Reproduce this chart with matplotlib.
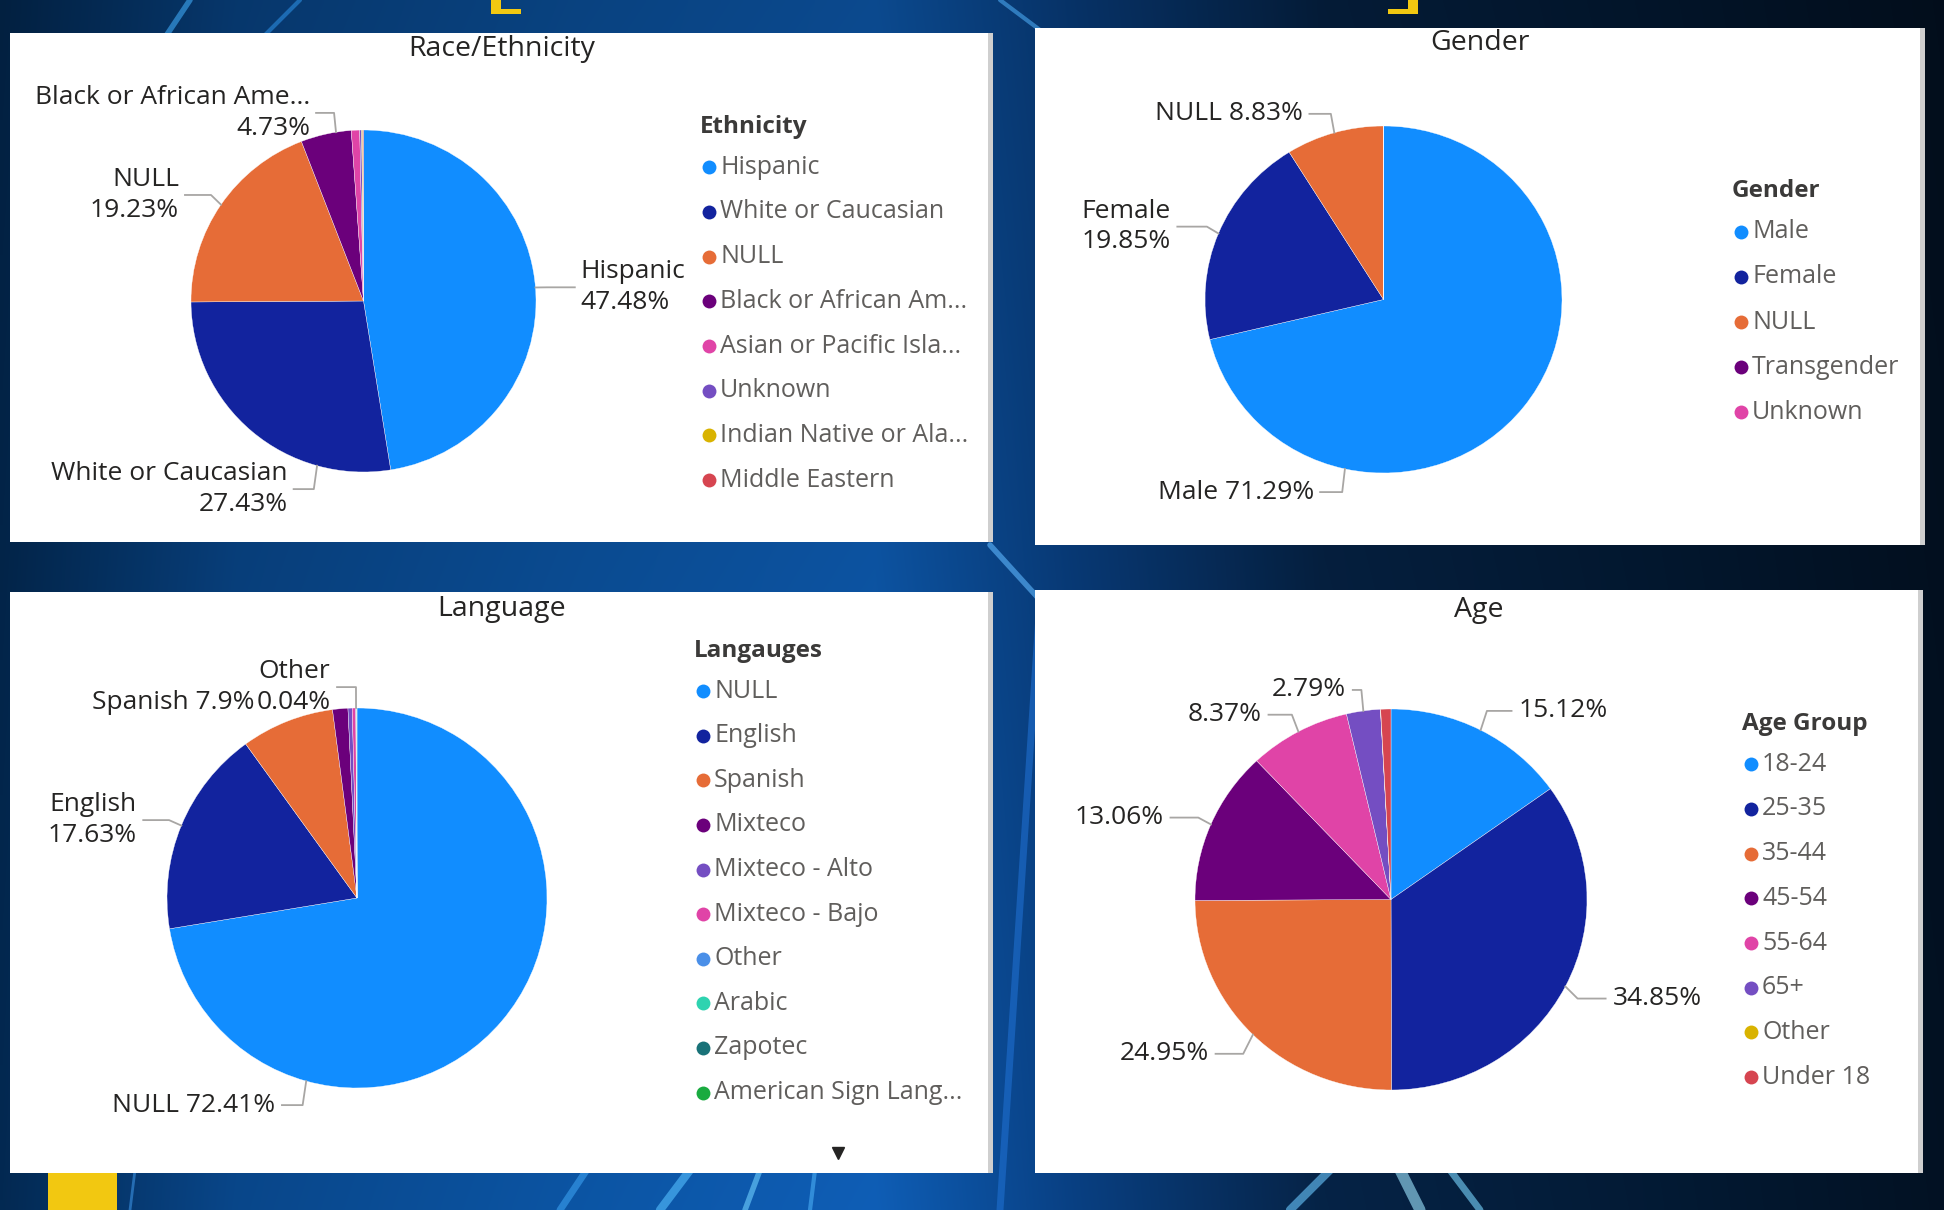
import numpy as np
import matplotlib.pyplot as plt
from matplotlib.patches import Rectangle, Polygon

W, H = 1944, 1210
plt.rcParams['font.family'] = ['Open Sans', 'DejaVu Sans']

# ---------------- data ----------------
eth_names = ["Hispanic", "White or Caucasian", "NULL", "Black or African Am...",
             "Asian or Pacific Isla...", "Unknown", "Indian Native or Ala...", "Middle Eastern"]
eth_values = [47.48, 27.43, 19.23, 4.73, 0.78, 0.18, 0.10, 0.07]
eth_captions = ["Hispanic", "White or Caucasian", "NULL", "Black or African Ame...",
                None, None, None, None]

gender_names = ["Male", "Female", "NULL", "Transgender", "Unknown"]
gender_values = [71.29, 19.85, 8.83, 0.02, 0.01]
gender_captions = ["Male", "Female", "NULL", None, None]

lang_names = ["NULL", "English", "Spanish", "Mixteco", "Mixteco - Alto", "Mixteco - Bajo",
              "Other", "Arabic", "Zapotec", "American Sign Lang..."]
lang_values = [72.41, 17.63, 7.90, 1.30, 0.36, 0.30, 0.04, 0.02, 0.02, 0.02]
lang_captions = ["NULL", "English", "Spanish", None, None, None, "Other", None, None, None]

age_names = ["18-24", "25-35", "35-44", "45-54", "55-64", "65+", "Other", "Under 18"]
age_values = [15.12, 34.85, 24.95, 13.06, 8.37, 2.79, 0.02, 0.84]
age_captions = ["", "", "", "", "", "", None, None]

# power bi palette
pbi = ['#118DFF', '#12239E', '#E66C37', '#6B007B', '#E044A7', '#744EC2', '#D9B300', '#D64550']
lang_colors = ['#118DFF', '#12239E', '#E66C37', '#6B007B', '#744EC2', '#E044A7',
               '#4A8FE8', '#2ED3B0', '#197278', '#1AAB40']

# label layout: index -> (x, y, ha, sep, anchor fraction inside wedge)
eth_lay = {0: (1.26, 0.08, 'left', '\n', 0.5), 1: (-0.44, -1.10, 'right', '\n', 0.25),
           2: (-1.07, 0.62, 'right', '\n', 0.5), 3: (-0.31, 1.10, 'right', '\n', 0.7)}
gender_lay = {0: (-0.39, -1.11, 'right', ' ', 0.75), 1: (-1.19, 0.42, 'right', '\n', 0.5),
              2: (-0.45, 1.07, 'right', ' ', 0.5)}
lang_lay = {0: (-0.43, -1.09, 'right', ' ', 0.75), 1: (-1.16, 0.41, 'right', '\n', 0.5),
            2: (-0.54, 1.03, 'right', ' ', None), 6: (-0.14, 1.11, 'right', '\n', 0.5)}
age_lay = {0: (0.65, 0.99, 'left', '', 0.5), 1: (1.13, -0.52, 'left', '', 0.5),
           2: (-0.93, -0.81, 'right', '', 0.5), 3: (-1.16, 0.43, 'right', '', 0.5),
           4: (-0.66, 0.97, 'right', '', 0.5), 5: (-0.23, 1.10, 'right', '', 0.5)}

fig = plt.figure(figsize=(W / 100, H / 100), dpi=100)

# ---------------- background ----------------
bg = fig.add_axes([0, 0, 1, 1])
bg.set_xlim(0, W)
bg.set_ylim(H, 0)
bg.axis('off')

xs = np.linspace(0, 1, 390)
keys = [0, 0.12, 0.3, 0.45, 0.55, 0.68, 0.85, 1]
cols = np.array([[0.01, 0.14, 0.28], [0.03, 0.24, 0.47], [0.04, 0.29, 0.56], [0.05, 0.32, 0.62],
                 [0.03, 0.22, 0.45], [0.02, 0.12, 0.24], [0.01, 0.09, 0.18], [0.01, 0.06, 0.12]])
row = np.stack([np.interp(xs, keys, cols[:, k]) for k in range(3)], axis=-1)
ys = np.linspace(0, 1, 242)[:, None, None]
img = row[None, :, :] * (0.9 + 0.25 * ys)
bg.imshow(np.clip(img, 0, 1), extent=[0, W, H, 0], aspect='auto', interpolation='bilinear', zorder=0)

streaks = [((190, 0), (150, 60), '#3fa9f5', 4), ((300, 0), (260, 40), '#2b8de0', 3),
           ((560, 1210), (600, 1150), '#3aa0f0', 5), ((660, 1210), (690, 1170), '#55c0ff', 6),
           ((745, 1210), (760, 1170), '#6fd0ff', 4), ((810, 1210), (815, 1170), '#4aaef5', 3),
           ((130, 1210), (135, 1170), '#3a90e0', 2), ((1290, 1210), (1330, 1170), '#6ac8ff', 6),
           ((1420, 1210), (1400, 1170), '#9fe6ff', 8), ((1480, 1210), (1450, 1170), '#7ad6ff', 5),
           ((990, 545), (1040, 600), '#5fb8ff', 4), ((1000, 0), (1040, 30), '#4aa8f0', 3),
           ((1040, 600), (1000, 1210), '#1f6fd0', 5)]
for (x0, y0), (x1, y1), c, lw in streaks:
    bg.plot([x0, x1], [y0, y1], color=c, lw=lw, alpha=0.6, solid_capstyle='round', zorder=1)

# yellow brackets / square
bg.add_patch(Polygon([(491, 0), (501, 0), (501, 9), (521, 9), (521, 14), (491, 14)],
                     fc='#F2C811', ec='none', zorder=2))
bg.add_patch(Polygon([(1418, 0), (1408, 0), (1408, 9), (1388, 9), (1388, 14), (1418, 14)],
                     fc='#F2C811', ec='none', zorder=2))
bg.add_patch(Rectangle((48, 1173), 69, 40, fc='#F2C811', ec='none', zorder=2))

TXT = '#252423'
LEG = '#605E5C'
LINE = '#A8A6A4'


def pie_rect(x0, y0, x1, y1):
    return [x0 / W, 1 - y1 / H, (x1 - x0) / W, (y1 - y0) / H]


def panel(box, title, title_y, pie_box, names, values, colors, captions, lay,
          leg_title, leg_x, leg_y, leg_step=44.7):
    x0, y0, x1, y1 = box
    bg.add_patch(Rectangle((x0, y0), x1 - x0, y1 - y0, fc='white', ec='none', zorder=3))
    bg.add_patch(Rectangle((x1 - 5, y0), 5, y1 - y0, fc='#cfcfcf', ec='none', zorder=3))
    bg.text((x0 + x1) / 2, title_y, title, fontsize=20.5, color=TXT,
            ha='center', va='center', zorder=4)

    ax = fig.add_axes(pie_rect(*pie_box))
    ax.pie(values, colors=colors[:len(values)], startangle=90, counterclock=False,
           wedgeprops=dict(edgecolor='white', linewidth=0.25))
    ax.set_aspect('auto')
    ax.set_xlim(-1, 1)
    ax.set_ylim(-1, 1)
    ax.axis('off')

    tot = sum(values)
    cum = np.concatenate([[0], np.cumsum(values)]) / tot * 360
    for i, cap in enumerate(captions):
        if cap is None or i not in lay:
            continue
        tx, ty, ha, sep, frac = lay[i]
        pct = f"{values[i]:g}%"
        label = pct if cap == '' else cap + sep + pct
        ax.text(tx, ty, label, ha=ha, va='center', multialignment=ha, fontsize=19,
                color=TXT, linespacing=1.3, clip_on=False)
        if frac is None:
            continue
        a = np.radians(cum[i] + frac * (cum[i + 1] - cum[i]))
        rx, ry = np.sin(a), np.cos(a)
        ex = 1.07 * rx
        end = tx + 0.035 if ha == 'right' else tx - 0.035
        ax.plot([rx, ex, end], [ry, ty, ty], color=LINE, lw=1.3, clip_on=False)

    # legend
    bg.text(leg_x, leg_y, leg_title, fontsize=17.5, fontweight='bold', color='#3b3a39',
            ha='left', va='center', zorder=4)
    for k, (n, c) in enumerate(zip(names, colors)):
        yy = leg_y + leg_step * (k + 0.9)
        bg.plot(leg_x + 9, yy, 'o', ms=10, color=c, mec='none', zorder=4)
        bg.text(leg_x + 20, yy, n, fontsize=18, color=LEG, ha='left', va='center', zorder=4)


panel((10, 33, 993, 542), "Race/Ethnicity", 49, (191, 130, 536, 472),
      eth_names, eth_values, pbi, eth_captions, eth_lay, "Ethnicity", 700, 127)
panel((1035, 28, 1925, 545), "Gender", 43, (1205, 126, 1562, 473),
      gender_names, gender_values, pbi, gender_captions, gender_lay, "Gender", 1732, 191,
      leg_step=45.2)
panel((10, 592, 993, 1173), "Language", 609, (167, 708, 547, 1088),
      lang_names, lang_values, lang_colors, lang_captions, lang_lay, "Langauges", 694, 651,
      leg_step=44.6)
panel((1035, 590, 1923, 1173), "Age", 610, (1195, 709, 1587, 1090),
      age_names, age_values, pbi, age_captions, age_lay, "Age Group", 1742, 724)

# scroll arrow of the language legend
bg.plot(838, 1153, 'v', ms=8, color='#252423', zorder=5)

fig.savefig('out.png', dpi=100)
